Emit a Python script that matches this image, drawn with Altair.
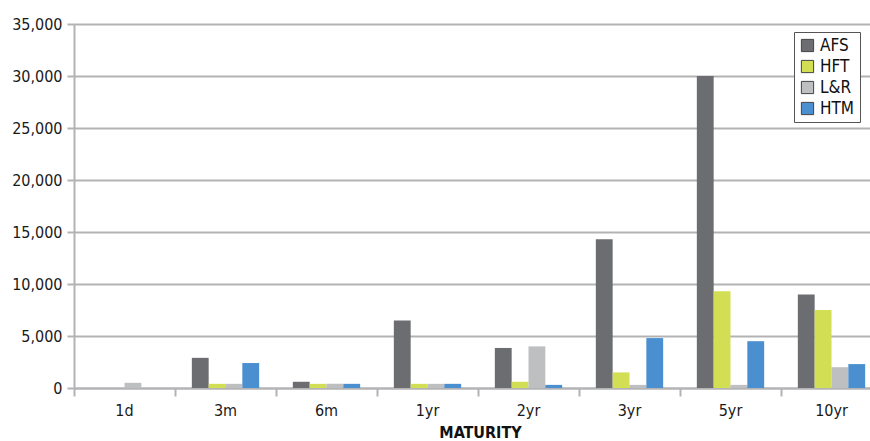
import altair as alt
import pandas as pd

maturities = ["1d", "3m", "6m", "1yr", "2yr", "3yr", "5yr", "10yr"]
series = ["AFS", "HFT", "L&R", "HTM"]
afs = [0, 2900, 600, 6500, 3850, 14300, 30000, 9000]
hft = [0, 400, 400, 400, 600, 1500, 9300, 7500]
lr = [500, 400, 400, 400, 4000, 300, 300, 2000]
htm = [0, 2400, 400, 400, 300, 4800, 4500, 2300]
colors = ["#6c6d71", "#d2df55", "#bebfc0", "#4a8fcf"]

rows = []
for s, vals in zip(series, [afs, hft, lr, htm]):
    for m, v in zip(maturities, vals):
        rows.append({"maturity": m, "series": s, "value": v})
df = pd.DataFrame(rows)

FONT = "DejaVu Sans Condensed, DejaVu Sans, sans-serif"
GRID = "#b3b3b6"

chart = alt.Chart(df).mark_bar().encode(
    x=alt.X("maturity:N", sort=maturities,
            scale=alt.Scale(range=[0, 808], paddingInner=0, paddingOuter=0),
            axis=alt.Axis(title="MATURITY", labelAngle=0, bandPosition=0,
                          labelFontSize=16, labelColor="#1a1a1a", labelPadding=6,
                          labelFont=FONT, tickSize=8, tickColor=GRID, tickWidth=2,
                          domainColor=GRID, domainWidth=2,
                          titleFont=FONT, titleFontSize=16, titleFontWeight="bold",
                          titleColor="#111", titleX=406, titlePadding=6)),
    xOffset=alt.XOffset("series:N", sort=series,
                        scale=alt.Scale(paddingInner=0, paddingOuter=1)),
    y=alt.Y("value:Q", scale=alt.Scale(domain=[0, 35000]),
            axis=alt.Axis(title=None, values=list(range(0, 35001, 5000)), format=",.0f",
                          labelFontSize=16, labelColor="#1a1a1a", labelFont=FONT,
                          labelPadding=5, tickSize=7, tickColor=GRID, tickWidth=2,
                          domainColor=GRID, domainWidth=2,
                          gridColor=GRID, gridWidth=2)),
    color=alt.Color("series:N", sort=series,
                    scale=alt.Scale(domain=series, range=colors),
                    legend=alt.Legend(title=None, orient="none", legendX=720, legendY=8,
                                      fillColor="white", strokeColor="#555555",
                                      padding=5, symbolType="square", symbolSize=150,
                                      symbolStrokeColor="#444444", symbolStrokeWidth=1,
                                      labelFont=FONT, labelFontSize=17,
                                      labelColor="#111", rowPadding=3)),
).properties(
    width=796, height=364,
    autosize=alt.AutoSizeParams(type="none"),
    padding={"left": 74, "top": 24, "right": 0, "bottom": 53},
).configure_view(stroke=None)

chart.save("out.html", embed_options={"renderer": "svg", "actions": False})
